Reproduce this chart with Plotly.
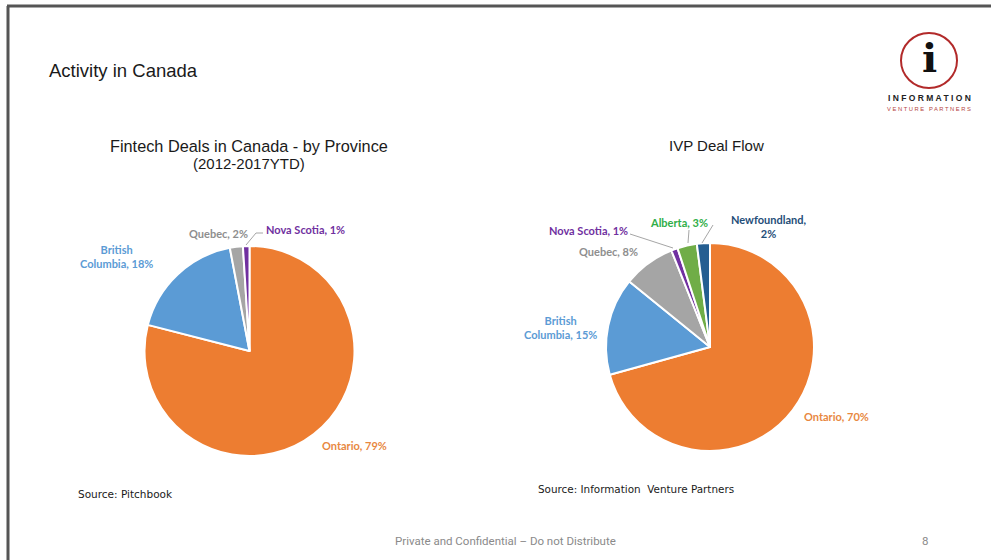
import plotly.graph_objects as go

# Fintech deals by province (2012-2017 YTD)
fintech_provinces = ["Ontario", "British Columbia", "Quebec", "Nova Scotia"]
fintech_share = [79, 18, 2, 1]

# IVP deal flow by province
ivp_provinces = ["Ontario", "British Columbia", "Quebec", "Nova Scotia", "Alberta", "Newfoundland"]
ivp_share = [70, 15, 8, 1, 3, 2]

province_colors = {
    "Ontario": "#ED7D31",
    "British Columbia": "#5B9BD5",
    "Quebec": "#A5A5A5",
    "Nova Scotia": "#7030A0",
    "Alberta": "#70AD47",
    "Newfoundland": "#255E91",
}
label_colors = {
    "Ontario": "#E8883F",
    "British Columbia": "#5B9BD5",
    "Quebec": "#8E8E8E",
    "Nova Scotia": "#7030A0",
    "Alberta": "#2FAE48",
    "Newfoundland": "#1F4E79",
}

W, H = 991, 560


def px(x):
    return x / W


def py(y):
    return 1 - y / H


fig = go.Figure()

fig.add_trace(go.Pie(
    labels=fintech_provinces, values=fintech_share, sort=False,
    direction="clockwise", rotation=0, textinfo="none", hoverinfo="label+percent",
    marker=dict(colors=[province_colors[p] for p in fintech_provinces],
                line=dict(color="white", width=2)),
    domain=dict(x=[px(144.5), px(354.5)], y=[py(456), py(246)]),
    showlegend=False,
))

fig.add_trace(go.Pie(
    labels=ivp_provinces, values=ivp_share, sort=False,
    direction="clockwise", rotation=0, textinfo="none", hoverinfo="label+percent",
    marker=dict(colors=[province_colors[p] for p in ivp_provinces],
                line=dict(color="white", width=2)),
    domain=dict(x=[px(606), px(814)], y=[py(451), py(243)]),
    showlegend=False,
))

annotations = []


def text(x, y, s, size, color, family, xanchor="center"):
    annotations.append(dict(
        x=px(x), y=py(y), xref="paper", yref="paper", text=s, showarrow=False,
        xanchor=xanchor, yanchor="middle", align="center",
        font=dict(size=size, color=color, family=family),
    ))


def slice_label(x, y, province, value, two_line=False):
    if province == "British Columbia":
        s = f"British<br>Columbia, {value}%"
    elif two_line:
        s = f"{province},<br>{value}%"
    else:
        s = f"{province}, {value}%"
    text(x, y, f"<b>{s}</b>", 11, label_colors[province], "Lato")


def spaced(word_list):
    return "&nbsp;&nbsp;&nbsp;".join(" ".join(w) for w in word_list)


# Slide heading and chart titles
text(47, 70, "Activity in Canada", 18.5, "#1a1a1a", "Liberation Sans", xanchor="left")
text(249, 146, "Fintech Deals in Canada - by Province", 16.3, "#1a1a1a", "Liberation Sans")
text(249, 163, "(2012-2017YTD)", 15, "#1a1a1a", "Liberation Sans")
text(716, 146, "IVP Deal Flow", 15, "#1a1a1a", "Liberation Sans")

# Left chart labels
f = dict(zip(fintech_provinces, fintech_share))
slice_label(116, 257, "British Columbia", f["British Columbia"])
slice_label(218, 233, "Quebec", f["Quebec"])
slice_label(305, 229, "Nova Scotia", f["Nova Scotia"])
slice_label(354, 446, "Ontario", f["Ontario"])

# Right chart labels
v = dict(zip(ivp_provinces, ivp_share))
slice_label(560, 327, "British Columbia", v["British Columbia"])
slice_label(608, 252, "Quebec", v["Quebec"])
slice_label(588, 230, "Nova Scotia", v["Nova Scotia"])
slice_label(679, 223, "Alberta", v["Alberta"])
slice_label(768, 226, "Newfoundland", v["Newfoundland"], two_line=True)
slice_label(836, 416, "Ontario", v["Ontario"])

# Sources and footer
text(76, 494, "Source: Pitchbook", 10.5, "#1a1a1a", "DejaVu Sans", xanchor="left")
text(536, 489, "Source: Information&nbsp; Venture Partners", 10.4, "#1a1a1a", "DejaVu Sans", xanchor="left")
text(505, 541, "Private and Confidential – Do not Distribute", 11.5, "#8a8a8a", "Roboto")
text(925, 541, "8", 11.5, "#8a8a8a", "Roboto")

# Logo
text(929, 58, "<b>i</b>", 40, "#111111", "DejaVu Serif")
text(929, 98, "<b>" + spaced(["INFORMATION"]) + "</b>", 8.5, "#222222", "Liberation Sans")
text(929, 109, spaced(["VENTURE", "PARTNERS"]), 5.8, "#B5463F", "Liberation Sans")

shapes = [
    # slide frame
    dict(type="line", xref="paper", yref="paper", x0=px(7), x1=1, y0=py(6), y1=py(6),
         line=dict(color="#555555", width=3)),
    dict(type="line", xref="paper", yref="paper", x0=px(8), x1=px(8), y0=py(6), y1=0,
         line=dict(color="#555555", width=3)),
    # logo ring
    dict(type="circle", xref="paper", yref="paper", x0=px(901), x1=px(957), y0=py(88), y1=py(33),
         line=dict(color="#B22A2A", width=2)),
]


def leader(points):
    path = "M " + " L ".join(f"{px(x)},{py(y)}" for x, y in points)
    shapes.append(dict(type="path", xref="paper", yref="paper", path=path,
                       line=dict(color="#A6A6A6", width=1)))


leader([(263, 233), (256, 233), (246, 245)])
leader([(630, 234), (673, 248)])
leader([(689, 230), (688, 243)])
leader([(713, 225), (702, 243)])

fig.update_layout(
    width=W, height=H, margin=dict(l=0, r=0, t=0, b=0),
    paper_bgcolor="white", plot_bgcolor="white",
    annotations=annotations, shapes=shapes,
)

fig.write_html("out.html")
